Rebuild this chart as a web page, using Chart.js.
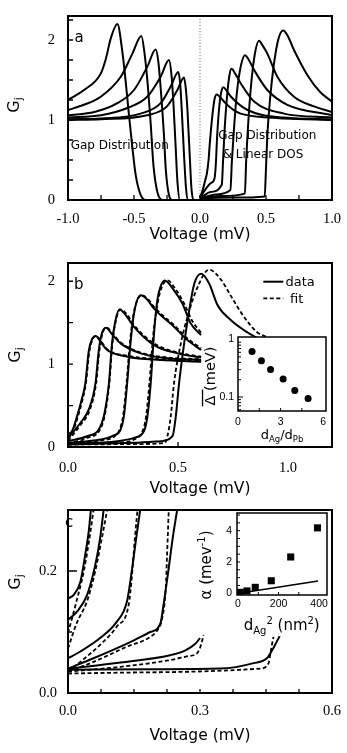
<!DOCTYPE html>
<html>
<head>
<meta charset="utf-8">
<script src="https://cdn.jsdelivr.net/npm/chart.js@4.4.0/dist/chart.umd.min.js"></script>
<style>
  html, body { margin: 0; padding: 0; background: #fff; }
  #wrap { position: relative; width: 347px; height: 753px; overflow: hidden; background: #fff; }
  canvas { position: absolute; }
</style>
</head>
<body>
<div id="wrap">
  <canvas id="chartA" width="347" height="250" style="left:0;top:0"></canvas>
  <canvas id="chartB" width="347" height="250" style="left:0;top:250px"></canvas>
  <canvas id="insetB" width="140" height="112" style="left:193px;top:333px"></canvas>
  <canvas id="chartC" width="347" height="253" style="left:0;top:500px"></canvas>
  <canvas id="insetC" width="140" height="130" style="left:193px;top:508px"></canvas>
</div>
<script>
// ---- panel a : [voltage mV, Gj] ----
const aZero = [[0, 0], [0, 2.3]];
// negative bias, gap distribution
const aGap1 = [[-1,1.25],[-0.879,1.375],[-0.752,1.58],[-0.714,1.76],[-0.676,2.02],[-0.626,2.2],[-0.588,1.85],[-0.563,1.48],[-0.538,1.06],[-0.512,0.65],[-0.487,0.31],[-0.449,0.06],[-0.41,0],[0,0]];
const aGap2 = [[-1,1.125],[-0.879,1.19],[-0.752,1.29],[-0.6,1.54],[-0.512,1.83],[-0.444,2.05],[-0.42,1.83],[-0.398,1.48],[-0.373,0.94],[-0.353,0.44],[-0.323,0.1],[-0.285,0],[0,0]];
const aGap3 = [[-1,1.06],[-0.8,1.1],[-0.626,1.21],[-0.5,1.375],[-0.398,1.67],[-0.336,1.88],[-0.315,1.72],[-0.298,1.4],[-0.273,0.81],[-0.26,0.4],[-0.235,0.06],[-0.21,0],[0,0]];
const aGap4 = [[-1,1.03],[-0.75,1.06],[-0.55,1.15],[-0.4,1.29],[-0.298,1.54],[-0.235,1.75],[-0.217,1.58],[-0.202,1.23],[-0.184,0.65],[-0.171,0.23],[-0.152,0],[0,0]];
const aGap5 = [[-1,1.01],[-0.75,1.02],[-0.45,1.08],[-0.298,1.21],[-0.222,1.42],[-0.164,1.6],[-0.15,1.45],[-0.139,1.15],[-0.121,0.56],[-0.106,0.15],[-0.091,0],[0,0]];
const aGap6 = [[-1,1.0],[-0.75,1.01],[-0.4,1.06],[-0.25,1.17],[-0.171,1.375],[-0.121,1.53],[-0.108,1.4],[-0.096,1.15],[-0.078,0.56],[-0.065,0.15],[-0.05,0],[0,0]];
// positive bias, gap distribution & linear DOS
const aLin1 = [[0,0.03],[0.02,0.12],[0.04,0.25],[0.052,0.33],[0.065,0.5],[0.073,0.68],[0.094,1.06],[0.11,1.26],[0.126,1.32],[0.15,1.29],[0.187,1.22],[0.25,1.13],[0.308,1.08],[0.45,1.04],[0.636,1.02],[1,1.0]];
const aLin2 = [[0,0.03],[0.04,0.13],[0.08,0.21],[0.11,0.27],[0.12,0.45],[0.13,0.8],[0.145,1.15],[0.16,1.34],[0.177,1.41],[0.2,1.37],[0.235,1.29],[0.36,1.125],[0.636,1.03],[1,1.01]];
const aLin3 = [[0,0.02],[0.08,0.1],[0.165,0.19],[0.175,0.5],[0.188,0.92],[0.205,1.3],[0.222,1.55],[0.238,1.64],[0.27,1.57],[0.308,1.46],[0.41,1.23],[0.636,1.08],[1,1.03]];
const aLin4 = [[0,0.02],[0.12,0.07],[0.23,0.125],[0.242,0.5],[0.26,0.95],[0.28,1.35],[0.31,1.68],[0.341,1.81],[0.37,1.75],[0.41,1.625],[0.51,1.375],[0.662,1.19],[1,1.06]];
const aLin5 = [[0,0.02],[0.17,0.05],[0.34,0.08],[0.35,0.5],[0.365,0.95],[0.385,1.4],[0.415,1.82],[0.447,1.99],[0.475,1.93],[0.51,1.83],[0.586,1.54],[0.712,1.29],[0.864,1.17],[1,1.1]];
const aLin6 = [[0,0.02],[0.25,0.03],[0.49,0.045],[0.5,0.4],[0.51,0.8],[0.53,1.25],[0.56,1.7],[0.595,2.02],[0.63,2.12],[0.665,2.05],[0.712,1.875],[0.814,1.56],[0.91,1.35],[1,1.23]];

// ---- panel b : data (solid) and fit (dashed) ----
const bData1 = [[0,0.15],[0.02,0.2],[0.041,0.37],[0.06,0.55],[0.079,0.77],[0.094,1.15],[0.109,1.3],[0.126,1.34],[0.15,1.26],[0.178,1.17],[0.27,1.09],[0.42,1.05],[0.605,1.03]];
const bFit1  = [[0,0.1],[0.02,0.17],[0.043,0.35],[0.062,0.53],[0.081,0.76],[0.097,1.15],[0.112,1.3],[0.128,1.34],[0.152,1.27],[0.178,1.18],[0.27,1.1],[0.42,1.06],[0.605,1.04]];
const bData2 = [[0,0.11],[0.056,0.29],[0.094,0.45],[0.125,0.77],[0.14,1.17],[0.155,1.38],[0.173,1.44],[0.2,1.36],[0.239,1.25],[0.33,1.13],[0.452,1.07],[0.605,1.05]];
const bFit2  = [[0,0.075],[0.058,0.27],[0.098,0.44],[0.128,0.77],[0.143,1.17],[0.158,1.38],[0.176,1.44],[0.205,1.36],[0.24,1.26],[0.33,1.14],[0.452,1.08],[0.605,1.06]];
const bData3 = [[0,0.07],[0.087,0.13],[0.14,0.21],[0.163,0.37],[0.186,0.77],[0.2,1.25],[0.216,1.53],[0.234,1.66],[0.26,1.6],[0.3,1.45],[0.391,1.23],[0.498,1.13],[0.605,1.08]];
const bFit3  = [[0,0.04],[0.087,0.11],[0.143,0.2],[0.166,0.37],[0.188,0.77],[0.202,1.25],[0.218,1.53],[0.238,1.66],[0.265,1.61],[0.3,1.47],[0.391,1.25],[0.498,1.14],[0.605,1.09]];
const bData4 = [[0,0.05],[0.147,0.09],[0.208,0.14],[0.239,0.21],[0.254,0.37],[0.269,0.77],[0.284,1.25],[0.3,1.61],[0.33,1.83],[0.36,1.78],[0.391,1.67],[0.482,1.45],[0.543,1.29],[0.605,1.17]];
const bFit4  = [[0,0.04],[0.147,0.08],[0.212,0.13],[0.236,0.22],[0.25,0.37],[0.266,0.77],[0.281,1.25],[0.3,1.63],[0.335,1.83],[0.365,1.78],[0.391,1.69],[0.482,1.47],[0.543,1.31],[0.605,1.19]];
const bData5 = [[0,0.04],[0.224,0.07],[0.3,0.11],[0.345,0.19],[0.361,0.37],[0.376,0.77],[0.391,1.37],[0.406,1.77],[0.42,1.93],[0.44,2.01],[0.482,1.89],[0.52,1.73],[0.558,1.49],[0.605,1.35]];
const bFit5  = [[0,0.035],[0.232,0.054],[0.3,0.09],[0.34,0.2],[0.355,0.37],[0.37,0.77],[0.388,1.37],[0.41,1.77],[0.428,1.94],[0.452,2.01],[0.49,1.9],[0.53,1.72],[0.565,1.52],[0.605,1.38]];
const bData6 = [[0,0.03],[0.3,0.05],[0.421,0.07],[0.475,0.13],[0.49,0.37],[0.505,0.77],[0.528,1.25],[0.551,1.65],[0.574,1.97],[0.605,2.09],[0.642,1.97],[0.68,1.71],[0.741,1.53],[0.8,1.41],[0.863,1.31]];
const bFit6  = [[0,0.03],[0.3,0.035],[0.44,0.05],[0.452,0.13],[0.467,0.37],[0.482,0.77],[0.513,1.25],[0.543,1.57],[0.589,1.93],[0.642,2.14],[0.695,2.02],[0.741,1.82],[0.787,1.62],[0.857,1.39],[0.9,1.33]];
// inset b : gap vs thickness ratio
const ibRatio = [0.99, 1.65, 2.29, 3.18, 4.0, 4.94];
const ibGap   = [0.62, 0.43, 0.30, 0.205, 0.13, 0.094];

// ---- panel c : low-bias detail ----
const cData1 = [[0,0.155],[0.013,0.161],[0.028,0.182],[0.039,0.226],[0.047,0.264],[0.052,0.3]];
const cFit1  = [[0,0.098],[0.017,0.144],[0.036,0.2],[0.048,0.25],[0.058,0.3]];
const cData2 = [[0,0.12],[0.02,0.133],[0.043,0.16],[0.062,0.21],[0.073,0.254],[0.081,0.3]];
const cFit2  = [[0,0.073],[0.02,0.115],[0.043,0.15],[0.062,0.2],[0.077,0.254],[0.089,0.3]];
const cData3 = [[0,0.057],[0.028,0.068],[0.073,0.09],[0.111,0.117],[0.134,0.15],[0.145,0.2],[0.155,0.254],[0.164,0.3]];
const cFit3  = [[0,0.035],[0.028,0.051],[0.073,0.079],[0.111,0.109],[0.138,0.145],[0.145,0.19],[0.152,0.254],[0.158,0.3]];
const cData4 = [[0,0.04],[0.058,0.057],[0.134,0.081],[0.187,0.1],[0.21,0.114],[0.217,0.144],[0.228,0.2],[0.238,0.254],[0.248,0.3]];
const cFit4  = [[0,0.035],[0.058,0.051],[0.134,0.076],[0.187,0.092],[0.205,0.105],[0.214,0.122],[0.222,0.17],[0.225,0.224],[0.229,0.3]];
const cData5 = [[0,0.04],[0.12,0.05],[0.232,0.062],[0.267,0.07],[0.29,0.081],[0.3,0.09]];
const cFit5  = [[0,0.035],[0.12,0.043],[0.232,0.054],[0.27,0.06],[0.293,0.065],[0.3,0.074],[0.305,0.086],[0.308,0.095]];
const cData6 = [[0,0.038],[0.2,0.039],[0.346,0.04],[0.422,0.049],[0.452,0.057],[0.464,0.07],[0.475,0.085],[0.481,0.093]];
const cFit6  = [[0,0.032],[0.2,0.034],[0.437,0.04],[0.456,0.049],[0.46,0.065],[0.464,0.081],[0.467,0.092]];
// inset c : alpha vs dAg^2
const icD2    = [11, 44, 85, 164, 260, 392];
const icAlpha = [0.06, 0.15, 0.38, 0.8, 2.32, 4.18];
const icLine  = [[5, 0.0], [395, 0.78]];

// ---- tick labels and tick marks ----
const aXLabels = [-1, -0.5, 0, 0.5, 1];
const aYLabels = [0, 1, 2];
const aXMarks = [-0.75, -0.5, -0.25, 0, 0.25, 0.5, 0.75];
const aYMarks = [0.25, 0.5, 0.75, 1, 1.25, 1.5, 1.75, 2, 2.25];
const bXLabels = [0, 0.5, 1];
const bYLabels = [0, 1, 2];
const bXMarks = [0.5];
const bYMarks = [0.5, 1, 1.5, 2];
const cXLabels = [0, 0.3, 0.6];
const cYLabels = [0, 0.2];
const cXMarks = [0.075, 0.15, 0.225, 0.3, 0.375, 0.45, 0.525];
const cYMarks = [0.1, [0.2, 9]];
const ibXLabels = [0, 3, 6];
const ibYLabels = [0.1, 1];
const ibXMarks = [1.5, 3, 4.5];
const ibYMarks = [0.06, 0.07, 0.08, 0.09, [0.1, 5], 0.2, 0.3, 0.4, 0.5, 0.6, 0.7, 0.8, 0.9];
const icXLabels = [0, 200, 400];
const icYLabels = [0, 2, 4];
const icXMarks = [100, 200, 300];
const icYMarks = [0.5, 1, 1.5, 2, 2.5, 3, 3.5, 4, 4.5, 5];

const SANS = '"DejaVu Sans", sans-serif';

function line(pts, extra) {
  return Object.assign({
    data: pts.map(p => ({ x: p[0], y: p[1] })),
    showLine: true, pointRadius: 0, borderColor: '#000', borderWidth: 2,
    cubicInterpolationMode: 'monotone', fill: false
  }, extra || {});
}
const dashed = pts => line(pts, { borderDash: [4, 2.5], borderWidth: 1.8 });

// the axes must not push the plot area around: sizes are fixed here
function fixSize(s, w, h) {
  if (w !== null) s.width = w;
  if (h !== null) s.height = h;
  s.paddingTop = 0; s.paddingBottom = 0; s.paddingLeft = 0; s.paddingRight = 0;
}

// text with sub/superscripts, centred on (cx, cy); parts: [text, size, baseline offset]
function richText(ctx, parts, cx, cy, rotate, overline) {
  ctx.save();
  ctx.translate(cx, cy);
  if (rotate) ctx.rotate(-Math.PI / 2);
  ctx.textAlign = 'left';
  ctx.textBaseline = 'alphabetic';
  const widths = parts.map(p => { ctx.font = p[1] + 'px ' + SANS; return ctx.measureText(p[0]).width; });
  const total = widths.reduce((s, w) => s + w, 0);
  let x = -total / 2;
  parts.forEach((p, i) => {
    ctx.font = p[1] + 'px ' + SANS;
    ctx.fillText(p[0], x, p[2]);
    if (overline && i === 0) {
      ctx.lineWidth = 1.3;
      ctx.beginPath();
      ctx.moveTo(x - 1, p[2] - p[1] * 0.86);
      ctx.lineTo(x + widths[0] * 1.6, p[2] - p[1] * 0.86);
      ctx.stroke();
    }
    x += widths[i];
  });
  ctx.restore();
}

function decor(o) {
  return {
    id: 'decor',
    beforeDatasetsDraw(chart) {
      if (!o.whiteArea) return;
      const a = chart.chartArea, ctx = chart.ctx;
      ctx.save();
      ctx.fillStyle = '#fff';
      ctx.fillRect(a.left, a.top, a.right - a.left, a.bottom - a.top);
      ctx.restore();
    },
    afterDraw(chart) {
      const { ctx, chartArea: a, scales } = chart;
      ctx.save();
      ctx.strokeStyle = '#000';
      ctx.fillStyle = '#000';
      ctx.lineWidth = o.tickWidth;
      ctx.beginPath();
      o.xMarks.forEach(m => {
        const v = Array.isArray(m) ? m[0] : m, l = Array.isArray(m) ? m[1] : o.tickLen;
        const p = scales.x.getPixelForValue(v);
        ctx.moveTo(p, a.bottom); ctx.lineTo(p, a.bottom - l);
      });
      o.yMarks.forEach(m => {
        const v = Array.isArray(m) ? m[0] : m, l = Array.isArray(m) ? m[1] : o.tickLen;
        const p = scales.y.getPixelForValue(v);
        ctx.moveTo(a.left, p); ctx.lineTo(a.left + l, p);
      });
      ctx.stroke();
      ctx.lineWidth = o.frameWidth;
      ctx.strokeRect(a.left, a.top, a.right - a.left, a.bottom - a.top);
      (o.texts || []).forEach(t => {
        ctx.font = t.font;
        ctx.textAlign = 'left';
        ctx.textBaseline = 'alphabetic';
        ctx.fillText(t.text, t.x, t.y);
      });
      (o.rich || []).forEach(r => richText(ctx, r.parts, r.x, r.y, r.rotate, r.overline));
      if (o.extra) o.extra(ctx);
      ctx.restore();
    }
  };
}

function mainOptions(o) {
  return {
    responsive: false, animation: false, events: [], devicePixelRatio: 1,
    layout: { padding: { top: o.padTop, right: 15, left: 0, bottom: 0 } },
    plugins: { legend: { display: false }, tooltip: { enabled: false } },
    scales: {
      x: {
        type: 'linear', min: o.xMin, max: o.xMax,
        grid: { display: false, drawTicks: false }, border: { display: false },
        afterFit: s => fixSize(s, null, o.xHeight),
        afterBuildTicks: s => { s.ticks = o.xLabels.map(v => ({ value: v })); },
        ticks: { padding: o.xPad, color: '#000', maxRotation: 0, autoSkip: false,
                 font: { family: '"Liberation Serif", serif', size: 14.5 }, callback: v => v.toFixed(1) },
        title: { display: true, text: 'Voltage (mV)', color: '#000',
                 font: { family: SANS, size: 15.5 }, padding: { top: 0, bottom: o.titlePad } }
      },
      y: {
        type: 'linear', min: o.yMin, max: o.yMax,
        grid: { display: false, drawTicks: false }, border: { display: false },
        afterFit: s => fixSize(s, 68, null),
        afterBuildTicks: s => { s.ticks = o.yLabels.map(v => ({ value: v })); },
        ticks: { padding: o.yPad, color: '#000', autoSkip: false,
                 font: { family: '"Liberation Serif", serif', size: 14.5 }, callback: o.fmtY }
      }
    }
  };
}

function insetOptions(o) {
  return {
    responsive: false, animation: false, events: [], devicePixelRatio: 1,
    layout: { padding: { top: o.padTop, right: o.padRight, left: 0, bottom: 0 } },
    plugins: { legend: { display: false }, tooltip: { enabled: false } },
    scales: {
      x: {
        type: 'linear', min: o.xMin, max: o.xMax,
        grid: { display: false, drawTicks: false }, border: { display: false },
        afterFit: s => fixSize(s, null, o.xHeight),
        afterBuildTicks: s => { s.ticks = o.xLabels.map(v => ({ value: v })); },
        ticks: { padding: o.xPad, color: '#000', maxRotation: 0, autoSkip: false,
                 font: { family: '"Liberation Sans", sans-serif', size: 10.5 }, callback: v => String(v) }
      },
      y: {
        type: o.yType, min: o.yMin, max: o.yMax,
        grid: { display: false, drawTicks: false }, border: { display: false },
        afterFit: s => fixSize(s, o.yWidth, null),
        afterBuildTicks: s => { s.ticks = o.yLabels.map(v => ({ value: v })); },
        ticks: { padding: o.yPad, color: '#000', autoSkip: false,
                 font: { family: '"Liberation Sans", sans-serif', size: 10.5 }, callback: v => String(v) }
      }
    }
  };
}

const gj = (x, y) => ({ parts: [['G', 16, 6], ['j', 11, 9]], x: x, y: y, rotate: true });

// panel a
new Chart(document.getElementById('chartA'), {
  type: 'scatter',
  data: { datasets: [
    line(aZero, { borderDash: [1, 2], borderWidth: 1, borderColor: '#666' }),
    ...[aGap1, aGap2, aGap3, aGap4, aGap5, aGap6, aLin1, aLin2, aLin3, aLin4, aLin5, aLin6].map(c => line(c))
  ] },
  options: mainOptions({ xMin: -1, xMax: 1, yMin: 0, yMax: 2.3, xLabels: aXLabels, yLabels: aYLabels,
    fmtY: v => String(v), padTop: 16, xHeight: 50, xPad: 10, yPad: 13, titlePad: 5.7 }),
  plugins: [decor({
    frameWidth: 2, tickWidth: 1.3, tickLen: 5, xMarks: aXMarks, yMarks: aYMarks,
    texts: [
      { text: 'a', x: 74.5, y: 41.5, font: '15px ' + SANS },
      { text: 'Gap Distribution', x: 70.7, y: 149, font: '12px ' + SANS },
      { text: 'Gap Distribution', x: 218.3, y: 139.3, font: '12px ' + SANS },
      { text: '& Linear DOS', x: 222.7, y: 157.7, font: '12px ' + SANS }
    ],
    rich: [gj(13, 105)]
  })]
});

// panel b
new Chart(document.getElementById('chartB'), {
  type: 'scatter',
  data: { datasets: [
    ...[bData1, bData2, bData3, bData4, bData5, bData6].map(c => line(c)),
    ...[bFit1, bFit2, bFit3, bFit4, bFit5, bFit6].map(dashed)
  ] },
  options: mainOptions({ xMin: 0, xMax: 1.2, yMin: 0, yMax: 2.22, xLabels: bXLabels, yLabels: bYLabels,
    fmtY: v => String(v), padTop: 13, xHeight: 53, xPad: 12.3, yPad: 13, titlePad: 1.4 }),
  plugins: [decor({
    frameWidth: 2, tickWidth: 1.3, tickLen: 5, xMarks: bXMarks, yMarks: bYMarks,
    texts: [
      { text: 'b', x: 74, y: 39.3, font: '15px ' + SANS },
      { text: 'data', x: 285.5, y: 36, font: '13px ' + SANS },
      { text: 'fit', x: 290, y: 52.7, font: '13px ' + SANS }
    ],
    rich: [gj(14, 105)],
    extra: ctx => {
      ctx.lineWidth = 2;
      ctx.beginPath(); ctx.moveTo(263.3, 31.7); ctx.lineTo(283.3, 31.7); ctx.stroke();
      ctx.lineWidth = 1.8;
      ctx.setLineDash([4, 2.5]);
      ctx.beginPath(); ctx.moveTo(263.3, 48.3); ctx.lineTo(283.3, 48.3); ctx.stroke();
      ctx.setLineDash([]);
    }
  })]
});

// inset b
new Chart(document.getElementById('insetB'), {
  type: 'scatter',
  data: { datasets: [{
    data: ibRatio.map((r, i) => ({ x: r, y: ibGap[i] })),
    pointRadius: 3.5, pointBackgroundColor: '#000', pointBorderColor: '#000', pointBorderWidth: 0
  }] },
  options: insetOptions({ xMin: 0, xMax: 6.2, yType: 'logarithmic', yMin: 0.057, yMax: 1.11,
    xLabels: ibXLabels, yLabels: ibYLabels, padTop: 2, padRight: 7, xHeight: 34, yWidth: 45, xPad: 4.5, yPad: 4 }),
  plugins: [decor({
    whiteArea: true, frameWidth: 1.5, tickWidth: 1, tickLen: 3, xMarks: ibXMarks, yMarks: ibYMarks,
    rich: [
      { parts: [['Δ', 14.5, 5], [' (meV)', 14.5, 5]], x: 17, y: 43, rotate: true, overline: true },
      { parts: [['d', 13, 4.5], ['Ag', 8.5, 7.5], ['/d', 13, 4.5], ['Pb', 8.5, 7.5]], x: 89, y: 101 }
    ]
  })]
});

// panel c
new Chart(document.getElementById('chartC'), {
  type: 'scatter',
  data: { datasets: [
    ...[cData1, cData2, cData3, cData4, cData5, cData6].map(c => line(c)),
    ...[cFit1, cFit2, cFit3, cFit4, cFit5, cFit6].map(dashed)
  ] },
  options: mainOptions({ xMin: 0, xMax: 0.6, yMin: 0, yMax: 0.3, xLabels: cXLabels, yLabels: cYLabels,
    fmtY: v => v.toFixed(1), padTop: 10, xHeight: 60, xPad: 9.6, yPad: 11, titlePad: 7.7 }),
  plugins: [decor({
    frameWidth: 2, tickWidth: 1.3, tickLen: 4, xMarks: cXMarks, yMarks: cYMarks,
    texts: [{ text: 'c', x: 65, y: 27, font: '15px ' + SANS }],
    rich: [gj(14, 82)]
  })]
});

// inset c
new Chart(document.getElementById('insetC'), {
  type: 'scatter',
  data: { datasets: [
    {
      data: icD2.map((d, i) => ({ x: d, y: icAlpha[i] })),
      pointStyle: 'rect', pointRadius: 5, pointBackgroundColor: '#000', pointBorderColor: '#000', pointBorderWidth: 0
    },
    line(icLine, { borderWidth: 1.6, cubicInterpolationMode: 'default' })
  ] },
  options: insetOptions({ xMin: -5, xMax: 439, yType: 'linear', yMin: -0.11, yMax: 5.13,
    xLabels: icXLabels, yLabels: icYLabels, padTop: 4, padRight: 6, xHeight: 43, yWidth: 44, xPad: 2.7, yPad: 5 }),
  plugins: [decor({
    whiteArea: true, frameWidth: 1.5, tickWidth: 1, tickLen: 3, xMarks: icXMarks, yMarks: icYMarks,
    rich: [
      { parts: [['α', 15, 5], [' (mev', 15, 5], ['-1', 10, -1], [')', 15, 5]], x: 13, y: 57, rotate: true },
      { parts: [['d', 15, 5], ['Ag', 10, 9], ['2', 10, -1], [' (nm', 15, 5], ['2', 10, -1], [')', 15, 5]], x: 88.7, y: 117 }
    ]
  })]
});
</script>
</body>
</html>
